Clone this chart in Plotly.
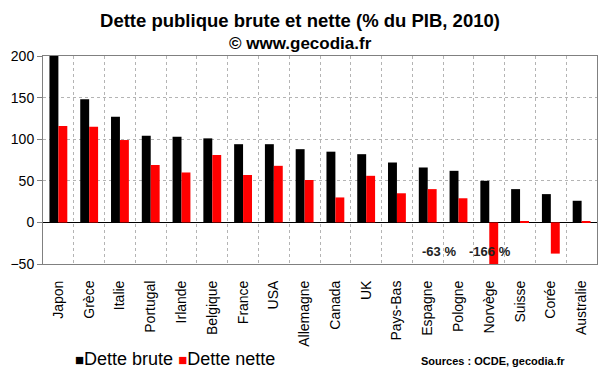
import plotly.graph_objects as go

pays = ["Japon", "Grèce", "Italie", "Portugal", "Irlande", "Belgique", "France", "USA",
        "Allemagne", "Canada", "UK", "Pays-Bas", "Espagne", "Pologne", "Norvège", "Suisse",
        "Corée", "Australie"]
dette_brute = [200, 148, 127, 104, 103, 101, 94, 94, 88, 85, 82, 72, 66, 62, 50, 40, 34, 26]
dette_nette = [116, 115, 99, 69, 60, 81, 57, 68, 51, 30, 56, 35, 40, 29, -166, 1, -37.5, 1.5]
serie_noms = ["Dette brute", "Dette nette"]
serie_couleurs = ["#000000", "#ff0000"]
etiquettes_pays = ["Espagne", "Norvège"]
etiquettes_texte = ["-63 %", "-166 %"]
etiquettes_y = [-35, -35]
etiquettes_decalage = [11, 1]
y_ticks = [-50, 0, 50, 100, 150, 200]

FONT = "Liberation Sans, Arial, sans-serif"
GRID = "#b4b4b4"
BORDER = "#808080"

fig = go.Figure()
for nom, vals, col in zip(serie_noms, [dette_brute, dette_nette], serie_couleurs):
    fig.add_trace(go.Bar(x=pays, y=vals, name=nom, marker=dict(color=col, line=dict(width=0)),
                         showlegend=False))

annotations = []
for p, t, yy, dx in zip(etiquettes_pays, etiquettes_texte, etiquettes_y, etiquettes_decalage):
    annotations.append(dict(x=p, y=yy, xref="x", yref="y", text="<b>" + t + "</b>",
                            showarrow=False, xshift=dx, font=dict(size=13, color="#222", family=FONT)))

# subtitle
annotations.append(dict(x=(300 - 43) / 554, y=1 + (56 - 43.5) / 208, xref="paper", yref="paper",
                        text="<b>© www.gecodia.fr</b>", showarrow=False, xanchor="center",
                        yanchor="middle", font=dict(size=17, color="#000", family=FONT)))
# legend (as text)
leg = ("<span style='font-size:15px;color:%s'>■</span>%s <span style='font-size:15px;color:%s'>■</span>%s"
       % (serie_couleurs[0], serie_noms[0], serie_couleurs[1], serie_noms[1]))
annotations.append(dict(x=(73 - 43) / 554, y=(264 - 359) / 208, xref="paper", yref="paper",
                        text=leg, showarrow=False, xanchor="left", yanchor="middle",
                        font=dict(size=18, color="#000", family=FONT)))
annotations.append(dict(x=(567 - 43) / 554, y=(264 - 361) / 208, xref="paper", yref="paper",
                        text="<b>Sources : OCDE, gecodia.fr</b>", showarrow=False, xanchor="right",
                        yanchor="middle", font=dict(size=11, color="#000", family=FONT)))

fig.update_layout(
    width=600, height=372,
    margin=dict(l=43, r=3, t=56, b=108, autoexpand=False),
    paper_bgcolor="white", plot_bgcolor="white",
    barmode="group", bargap=0.42, bargroupgap=0,
    font=dict(family=FONT, size=14, color="#000"),
    title=dict(text="<b>Dette publique brute et nette (% du PIB, 2010)</b>",
               x=0.5, xanchor="center", y=1 - 20.7 / 372, yanchor="middle",
               font=dict(size=18.5, color="#000", family=FONT)),
    xaxis=dict(type="category", tickson="boundaries", showgrid=True, gridcolor=GRID,
               griddash="dot", gridwidth=1, ticks="", tickangle=-90, ticklabelstandoff=10,
               showline=True, linecolor=BORDER, mirror=True, linewidth=1,
               tickfont=dict(size=14, family=FONT, color="#000")),
    xaxis2=dict(overlaying="x", anchor="y", range=[-0.5, 17.5], tick0=0, dtick=1,
                showgrid=True, gridcolor=GRID, griddash="dot", gridwidth=1,
                showticklabels=False, ticks="", showline=False, zeroline=False),
    xaxis3=dict(overlaying="x", anchor="free", position=0.2, range=[-0.5, 17.5],
                tick0=-0.5, dtick=1, ticks="outside", ticklen=4, tickcolor=BORDER,
                showticklabels=False, showgrid=False, showline=False, zeroline=False),
    yaxis=dict(range=[-50, 200], tickvals=y_ticks, showgrid=True, gridcolor=GRID,
               griddash="dot", gridwidth=1, zeroline=True, zerolinecolor="#000",
               zerolinewidth=1, showline=True, linecolor=BORDER, mirror=True, linewidth=1,
               ticks="outside", ticklen=5, tickcolor=BORDER,
               tickfont=dict(size=14, family=FONT, color="#000")),
    annotations=annotations,
)

fig.write_html("out.html", config={"displayModeBar": False},
               post_script="document.body.style.margin='0';")
